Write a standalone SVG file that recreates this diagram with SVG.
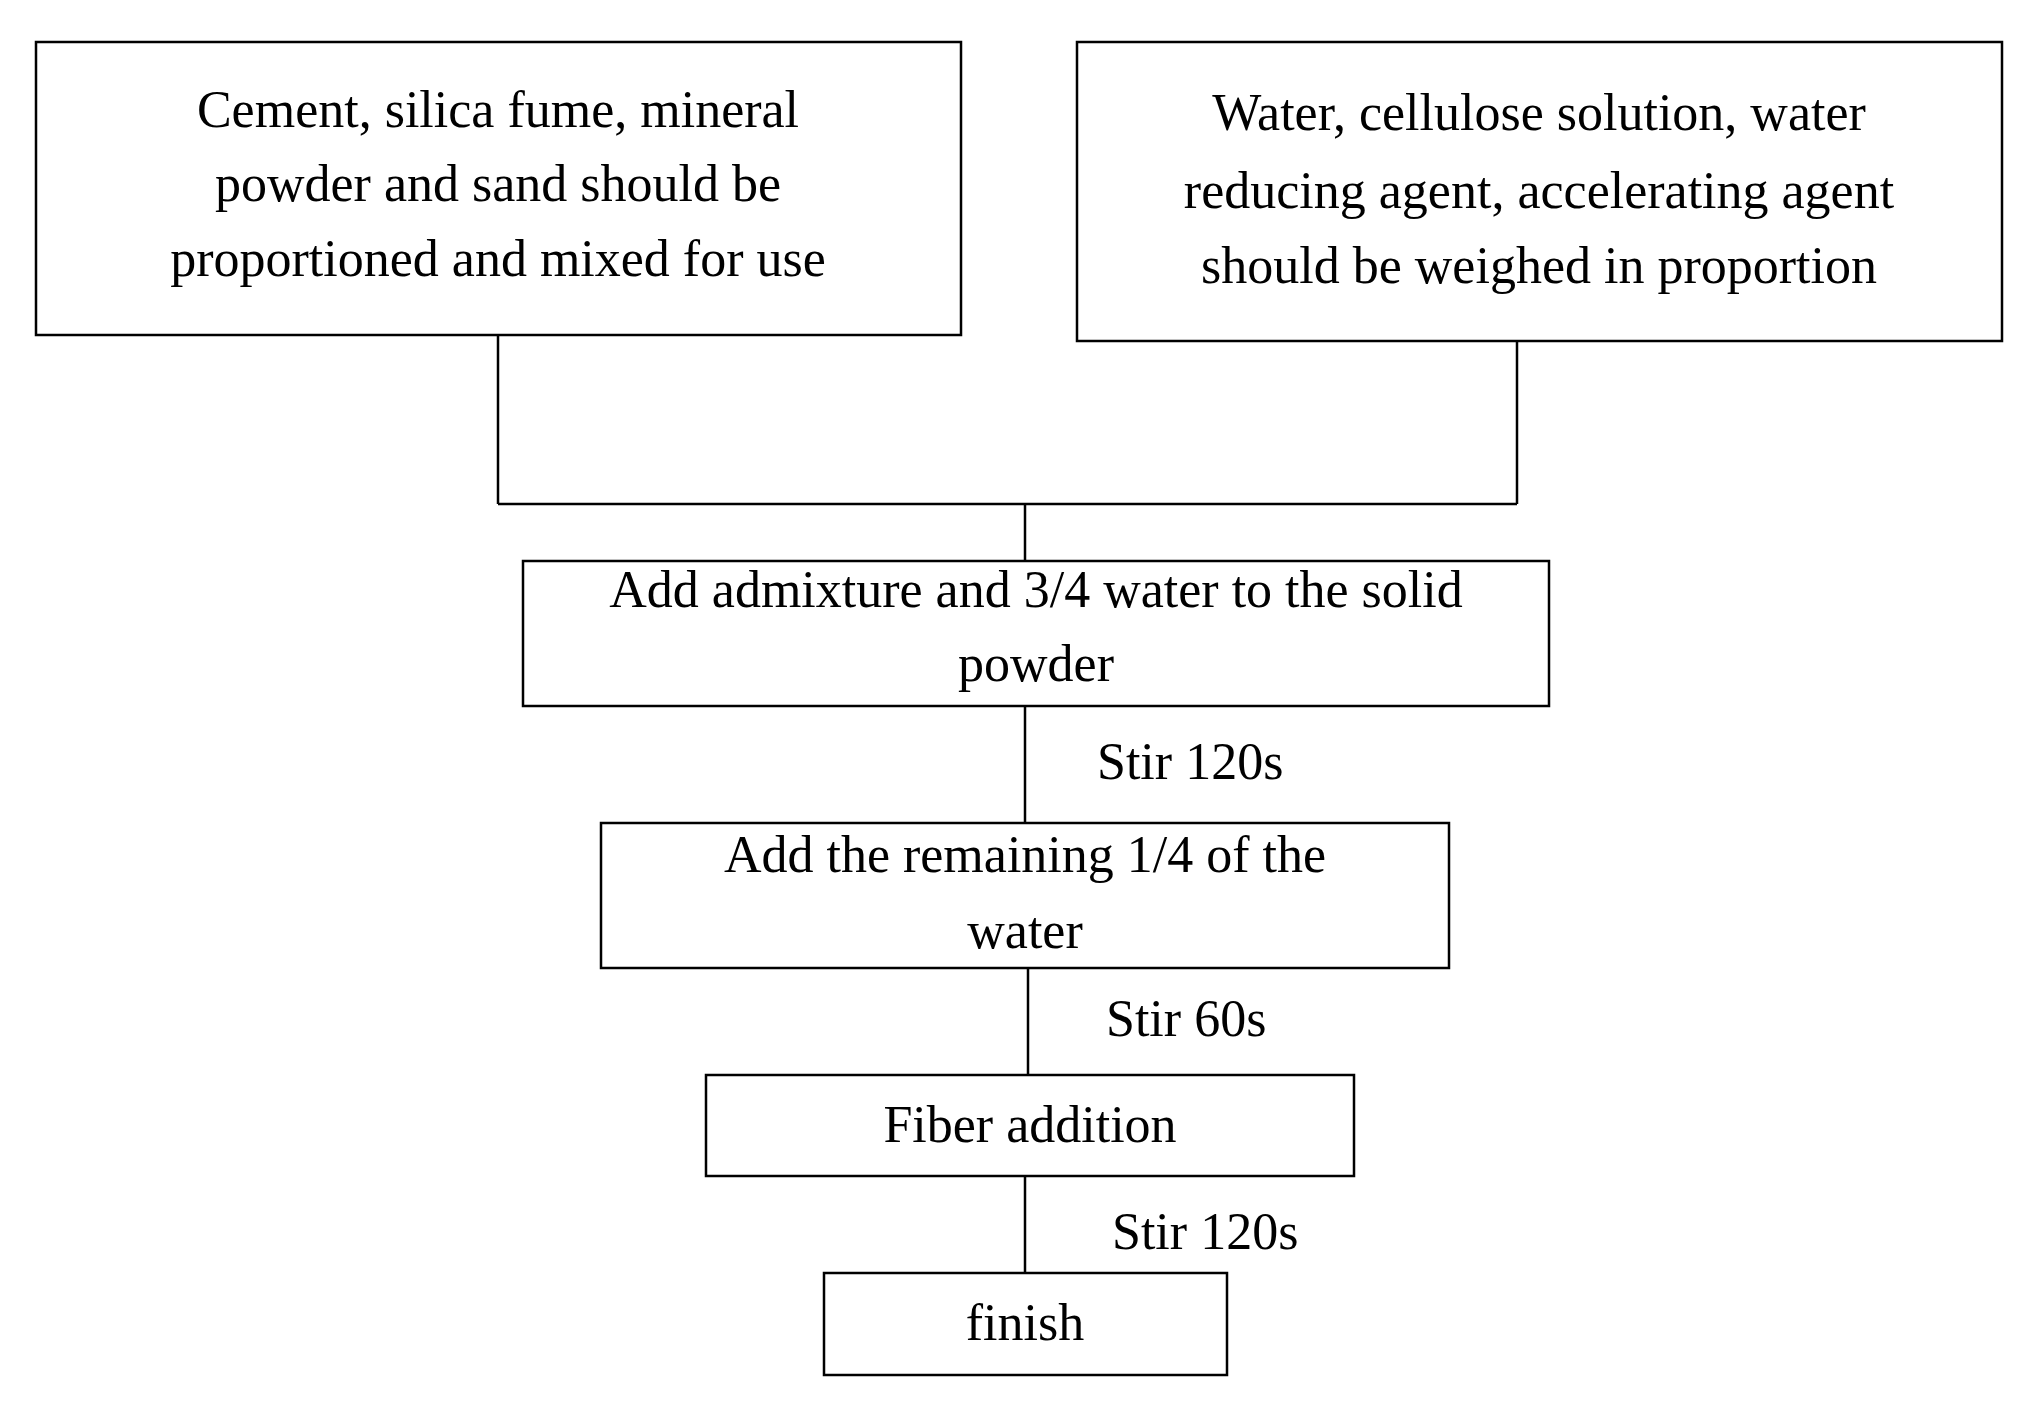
<svg xmlns="http://www.w3.org/2000/svg" width="2030" height="1402" viewBox="0 0 2030 1402">
<style>
rect{fill:#fff;stroke:#000;stroke-width:2.5}
line{stroke:#000;stroke-width:2.5}
text{font-family:"Liberation Serif",serif;font-size:52px;text-anchor:middle;fill:#000}
.l{text-anchor:start}
</style>
<rect x="0" y="0" width="2030" height="1402" style="stroke:none"/>
<g id="connectors">
<line x1="498" y1="335" x2="498" y2="504"/>
<line x1="1517" y1="341" x2="1517" y2="504"/>
<line x1="498" y1="504" x2="1517" y2="504"/>
<line x1="1025" y1="504" x2="1025" y2="561"/>
<line x1="1025" y1="706" x2="1025" y2="823"/>
<line x1="1028" y1="968" x2="1028" y2="1075"/>
<line x1="1025" y1="1176" x2="1025" y2="1273"/>
<text class="l" x="1097" y="779">Stir 120s</text>
<text class="l" x="1106" y="1036">Stir 60s</text>
<text class="l" x="1112" y="1249">Stir 120s</text>
</g>
<g id="n1"><rect x="36" y="42" width="925" height="293"/>
<text x="498" y="127">Cement, silica fume, mineral</text>
<text x="498" y="201">powder and sand should be</text>
<text x="498" y="276">proportioned and mixed for use</text></g>
<g id="n2"><rect x="1077" y="42" width="925" height="299"/>
<text x="1539" y="130">Water, cellulose solution, water</text>
<text x="1539" y="208">reducing agent, accelerating agent</text>
<text x="1539" y="283">should be weighed in proportion</text></g>
<g id="n3"><rect x="523" y="561" width="1026" height="145"/>
<text x="1036" y="607">Add admixture and 3/4 water to the solid</text>
<text x="1036" y="681">powder</text></g>
<g id="n4"><rect x="601" y="823" width="848" height="145"/>
<text x="1025" y="872">Add the remaining 1/4 of the</text>
<text x="1025" y="948">water</text></g>
<g id="n5"><rect x="706" y="1075" width="648" height="101"/>
<text x="1030" y="1142">Fiber addition</text></g>
<g id="n6"><rect x="824" y="1273" width="403" height="102"/>
<text x="1025" y="1340">finish</text></g>
</svg>
